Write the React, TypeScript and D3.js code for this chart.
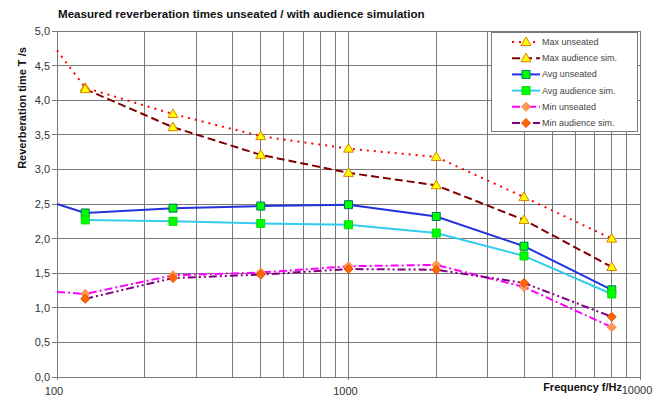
import React, { useEffect, useRef } from 'react';
import * as d3 from 'd3';

// frequency bands (100 Hz is only the left edge where some lines start)
const freqs = [100, 125, 250, 500, 1000, 2000, 4000, 8000];

const maxUnseated = [4.72, 4.18, 3.8, 3.48, 3.3, 3.18, 2.6, 2.0];
const maxAudience = [null, 4.16, 3.61, 3.21, 2.95, 2.77, 2.27, 1.59];
const avgUnseated = [2.5, 2.37, 2.44, 2.47, 2.49, 2.32, 1.89, 1.26];
const avgAudience = [null, 2.27, 2.25, 2.22, 2.2, 2.08, 1.75, 1.2];
const minUnseated = [1.23, 1.2, 1.47, 1.51, 1.6, 1.62, 1.3, 0.72];
const minAudience = [null, 1.13, 1.43, 1.48, 1.56, 1.55, 1.36, 0.87];

const yTicks = [0, 0.5, 1, 1.5, 2, 2.5, 3, 3.5, 4, 4.5, 5];
const xTickLabels = [100, 1000, 10000];

type Series = {
  name: string;
  values: (number | null)[];
  color: string;
  dash: string;
  marker: 'triangle' | 'square' | 'diamond';
  fill: string;
  edge: string;
};

const series: Series[] = [
  { name: 'Max unseated', values: maxUnseated, color: '#ff0000', dash: '2,5', marker: 'triangle', fill: '#ffff00', edge: '#e08000' },
  { name: 'Max audience sim.', values: maxAudience, color: '#800000', dash: '8,4', marker: 'triangle', fill: '#ffff00', edge: '#e08000' },
  { name: 'Avg unseated', values: avgUnseated, color: '#2233dd', dash: '', marker: 'square', fill: '#00ff00', edge: '#007a60' },
  { name: 'Avg audience sim.', values: avgAudience, color: '#33ccee', dash: '', marker: 'square', fill: '#00ff00', edge: '#00dd00' },
  { name: 'Min unseated', values: minUnseated, color: '#ff00ff', dash: '8,3,2,3', marker: 'diamond', fill: '#ff9955', edge: '#ff8844' },
  { name: 'Min audience sim.', values: minAudience, color: '#800080', dash: '8,3,2,3,2,3', marker: 'diamond', fill: '#ff6600', edge: '#e05000' },
];

const markerPath = (kind: string) => {
  if (kind === 'triangle') return 'M0,-5L5,3.5L-5,3.5Z';
  if (kind === 'square') return 'M-4,-4H4V4H-4Z';
  return 'M0,-4.5L4.5,0L0,4.5L-4.5,0Z';
};

const App = () => {
  const svgRef = useRef<SVGSVGElement>(null);

  useEffect(() => {
    document.body.style.margin = '0';
    const width = 668;
    const height = 403;
    const font = 'Liberation Sans, Arial, sans-serif';

    const svg = d3.select(svgRef.current);
    svg.selectAll('*').remove();
    svg.attr('width', width).attr('height', height).style('display', 'block').style('background', '#fff');

    const x = d3.scaleLog().domain([100, 10000]).range([57, 640]);
    const y = d3.scaleLinear().domain([0, 5]).range([377, 31]);

    // Gridlines
    const grid = svg.append('g').attr('shape-rendering', 'crispEdges');
    const xGrid: number[] = [];
    [100, 1000].forEach((dec) => {
      for (let k = 1; k <= 9; k++) xGrid.push(dec * k);
    });
    xGrid.push(10000);
    grid
      .selectAll('line.vx')
      .data(xGrid)
      .join('line')
      .attr('x1', (d) => x(d))
      .attr('x2', (d) => x(d))
      .attr('y1', y(5))
      .attr('y2', y(0))
      .attr('stroke', '#7a7a7a');
    grid
      .selectAll('line.hy')
      .data(yTicks)
      .join('line')
      .attr('x1', x(100))
      .attr('x2', x(10000))
      .attr('y1', (d) => y(d))
      .attr('y2', (d) => y(d))
      .attr('stroke', '#7a7a7a');

    // Axes ticks
    grid
      .selectAll('line.yt')
      .data(yTicks)
      .join('line')
      .attr('x1', x(100) - 5)
      .attr('x2', x(100))
      .attr('y1', (d) => y(d))
      .attr('y2', (d) => y(d))
      .attr('stroke', '#7a7a7a');
    grid
      .selectAll('line.xt')
      .data(xTickLabels)
      .join('line')
      .attr('x1', (d) => x(d))
      .attr('x2', (d) => x(d))
      .attr('y1', y(0))
      .attr('y2', y(0) + 3)
      .attr('stroke', '#7a7a7a');

    svg
      .append('g')
      .selectAll('text')
      .data(yTicks)
      .join('text')
      .attr('x', 50)
      .attr('y', (d) => y(d) + 4)
      .attr('text-anchor', 'end')
      .attr('font-family', font)
      .attr('font-size', 11)
      .attr('fill', '#333')
      .text((d) => d3.format('.1f')(d).replace('.', ','));

    svg
      .append('g')
      .selectAll('text')
      .data(xTickLabels)
      .join('text')
      .attr('x', (d) => x(d) - 3)
      .attr('y', (d) => (d === 10000 ? 394 : 395))
      .attr('text-anchor', 'middle')
      .attr('font-family', font)
      .attr('font-size', 11)
      .attr('fill', '#333')
      .text((d) => String(d));

    // Titles
    svg
      .append('text')
      .attr('x', 58)
      .attr('y', 18)
      .attr('font-family', font)
      .attr('font-size', 11.6)
      .attr('font-weight', 'bold')
      .attr('fill', '#111')
      .text('Measured reverberation times unseated / with audience simulation');
    svg
      .append('text')
      .attr('transform', `translate(26, 108) rotate(-90)`)
      .attr('text-anchor', 'middle')
      .attr('font-family', font)
      .attr('font-size', 11)
      .attr('font-weight', 'bold')
      .attr('fill', '#111')
      .text('Reverberation time T /s');
    svg
      .append('text')
      .attr('x', 622)
      .attr('y', 391)
      .attr('text-anchor', 'end')
      .attr('font-family', font)
      .attr('font-size', 11)
      .attr('font-weight', 'bold')
      .attr('fill', '#111')
      .text('Frequency f/Hz');

    // Lines
    const line = d3
      .line<number | null>()
      .defined((d) => d !== null)
      .x((_, i) => x(freqs[i]))
      .y((d) => y(d as number));

    const plot = svg.append('g');
    series.forEach((s) => {
      plot
        .append('path')
        .attr('d', line(s.values))
        .attr('fill', 'none')
        .attr('stroke', s.color)
        .attr('stroke-width', 2)
        .attr('stroke-dasharray', s.dash);
    });
    series.forEach((s) => {
      plot
        .selectAll(null)
        .data(s.values.map((v, i) => ({ f: freqs[i], v })).filter((d) => d.v !== null && d.f > 100))
        .join('path')
        .attr('transform', (d) => `translate(${x(d.f)},${y(d.v as number)})`)
        .attr('d', markerPath(s.marker))
        .attr('fill', s.fill)
        .attr('stroke', s.edge)
        .attr('stroke-width', 1);
    });

    // Legend
    const legend = svg.append('g');
    legend
      .append('rect')
      .attr('x', 491.5)
      .attr('y', 32.5)
      .attr('width', 146)
      .attr('height', 99)
      .attr('fill', '#fff')
      .attr('stroke', '#7a7a7a');
    series.forEach((s, i) => {
      const ly = 42 + i * 16.2;
      legend
        .append('line')
        .attr('x1', 512)
        .attr('x2', 540)
        .attr('y1', ly)
        .attr('y2', ly)
        .attr('stroke', s.color)
        .attr('stroke-width', 2)
        .attr('stroke-dasharray', s.dash);
      legend
        .append('path')
        .attr('transform', `translate(526,${ly})`)
        .attr('d', markerPath(s.marker))
        .attr('fill', s.fill)
        .attr('stroke', s.edge);
      legend
        .append('text')
        .attr('x', 542)
        .attr('y', ly + 3)
        .attr('font-family', font)
        .attr('font-size', 9)
        .attr('fill', '#444')
        .text(s.name);
    });
  }, []);

  return <svg ref={svgRef}></svg>;
};

export default App;
